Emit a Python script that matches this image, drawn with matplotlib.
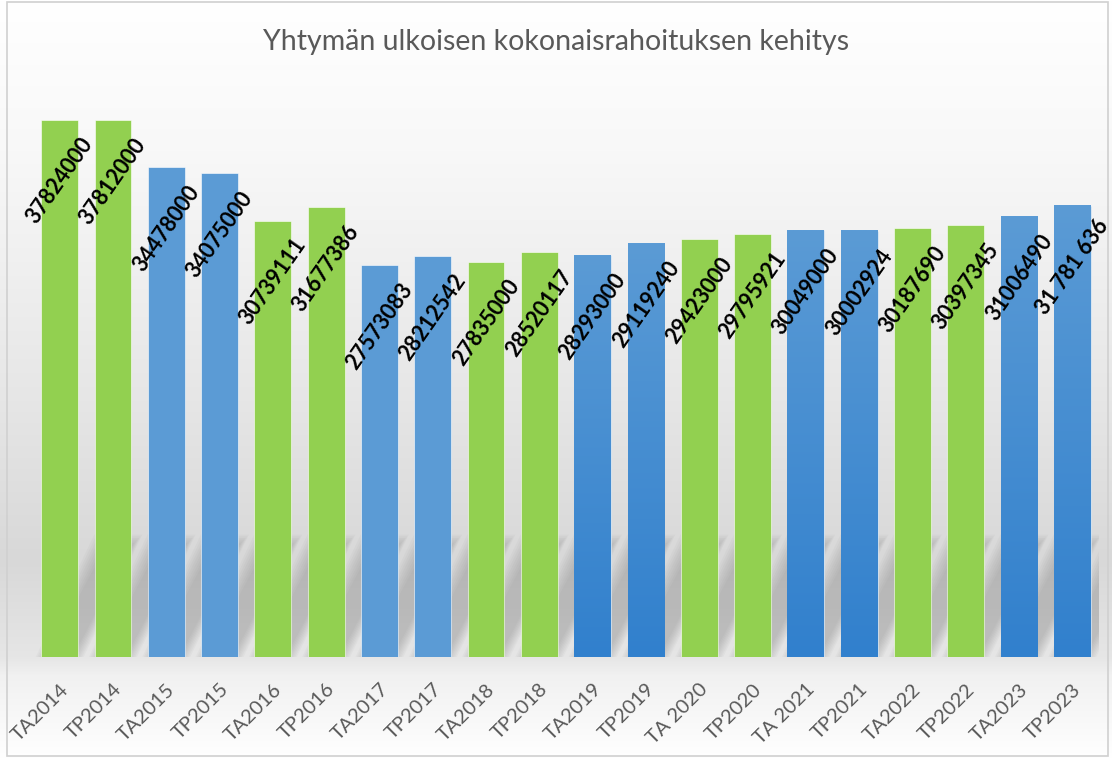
import numpy as np
import matplotlib.pyplot as plt
import matplotlib.transforms as mtrans
from matplotlib.colors import LinearSegmentedColormap, to_rgb
from matplotlib.patches import Polygon, Rectangle

# Data
categories = ['TA2014', 'TP2014', 'TA2015', 'TP2015', 'TA2016', 'TP2016',
              'TA2017', 'TP2017', 'TA2018', 'TP2018', 'TA2019', 'TP2019',
              'TA 2020', 'TP2020', 'TA 2021', 'TP2021', 'TA2022', 'TP2022',
              'TA2023', 'TP2023']
values = [37824000, 37812000, 34478000, 34075000, 30739111, 31677386,
          27573083, 28212542, 27835000, 28520117, 28293000, 29119240,
          29423000, 29795921, 30049000, 30002924, 30187690, 30397345,
          31006490, 31781636]
value_labels = ['37824000', '37812000', '34478000', '34075000', '30739111',
                '31677386', '27573083', '28212542', '27835000', '28520117',
                '28293000', '29119240', '29423000', '29795921', '30049000',
                '30002924', '30187690', '30397345', '31006490', '31 781 636']
is_green = [True, True, False, False, True, True, False, False, True, True,
            False, False, True, True, False, False, True, True, False, False]

GREEN = '#92D050'
BLUE = '#5B9BD5'
BLUE_DARK = '#3180CD'
TEXT = '#595959'

plt.rcParams['font.family'] = ['Lato', 'DejaVu Sans']

W, H = 1112, 758
fig = plt.figure(figsize=(W / 100, H / 100), dpi=100)

# figure background gradient
bg = fig.add_axes([0, 0, 1, 1], zorder=-10)
stops = [(0, '#ffffff'), (150, '#f8f8f8'), (400, '#e6e6e6'), (560, '#d8d8d8'),
         (657, '#e6e6e6'), (675, '#f1f1f1'), (758, '#ffffff')]
ys = np.arange(H)
cols = np.zeros((H, 3))
for k in range(3):
    cols[:, k] = np.interp(ys, [s[0] for s in stops], [to_rgb(s[1])[k] for s in stops])
bg.imshow(cols[:, None, :], aspect='auto', extent=(0, 1, 0, 1), origin='upper')
bg.add_patch(Rectangle((0.006, 0.003), 0.99, 0.994, fill=False, edgecolor='#d0d0d0',
                       linewidth=1.2, transform=bg.transAxes))
bg.set_xlim(0, 1)
bg.set_ylim(0, 1)
bg.axis('off')

ax = fig.add_axes([33 / W, 101 / H, 1066 / W, 568 / H])
ax.set_facecolor('none')
x = np.arange(len(values))
width = 0.69

# soft perspective shadows behind bars
sh_h = 8.2e6
sh_dx = 1.1
for i in x:
    for k in range(8):
        grow = (k - 3.5) * 0.03
        x0 = i - width / 2 - grow
        x1 = i + width / 2 + grow
        poly = Polygon([(x0, 0), (x1, 0), (x1 + sh_dx, sh_h + grow * 4e6),
                        (x0 + sh_dx, sh_h + grow * 4e6)],
                       closed=True, facecolor='#7a7a7a', edgecolor='none',
                       alpha=0.05, zorder=1)
        ax.add_patch(poly)

colors = [GREEN if g else BLUE for g in is_green]
bars = ax.bar(x, values, width=width, color=colors, zorder=2,
              edgecolor='#ffffff', linewidth=0.4)

# later blue bars have a vertical gradient
cmap = LinearSegmentedColormap.from_list('bl', [BLUE_DARK, BLUE])
grad = np.linspace(0, 1, 256)[:, None]
for i, b in enumerate(bars):
    if i >= 10 and not is_green[i]:
        ax.imshow(grad, cmap=cmap, origin='lower', aspect='auto', zorder=3,
                  extent=(b.get_x(), b.get_x() + b.get_width(), 0, b.get_height()))

for i, v in enumerate(values):
    ax.annotate(value_labels[i], (i, v), xytext=(0, -44), textcoords='offset points',
                ha='center', va='center', rotation=55, rotation_mode='anchor',
                fontsize=15.5, fontweight='bold', color='black', zorder=5)

ax.set_xlim(-0.5, len(values) - 0.5)
ax.set_ylim(0, 40000000)
ax.set_xticks(x)
ax.set_xticklabels(categories, rotation=45, ha='right', va='center',
                   rotation_mode='anchor', fontsize=14.5, color=TEXT)
ax.tick_params(axis='x', length=0, pad=22)
shift = mtrans.ScaledTranslation(6 / 100, 1 / 100, fig.dpi_scale_trans)
for lab in ax.get_xticklabels():
    lab.set_transform(lab.get_transform() + shift)
ax.set_yticks([])
for s in ax.spines.values():
    s.set_visible(False)

fig.text(0.5, 1 - 42 / H, 'Yhtymän ulkoisen kokonaisrahoituksen kehitys',
         ha='center', va='center', fontsize=20.5, color=TEXT)

fig.savefig('out.png', dpi=100)
